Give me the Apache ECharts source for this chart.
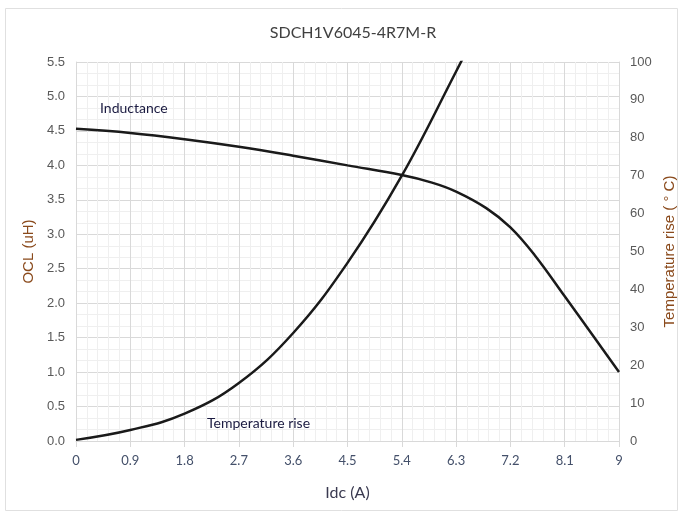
<!DOCTYPE html>
<html>
<head>
<meta charset="utf-8">
<script src="https://cdn.jsdelivr.net/npm/echarts@6/dist/echarts.min.js"></script>
<style>
html,body{margin:0;padding:0;background:#fff;}
#c{width:681px;height:514px;}
</style>
</head>
<body>
<div id="c"></div>
<script>
// Data
var title = 'SDCH1V6045-4R7M-R';
var indIdc = [0, 0.9, 1.8, 2.7, 3.6, 4.5, 5.4, 5.9, 6.3, 6.8, 7.2, 7.6, 8.1, 8.6, 9];
var indOCL = [4.53, 4.47, 4.38, 4.27, 4.14, 4.0, 3.86, 3.75, 3.62, 3.38, 3.1, 2.7, 2.1, 1.49, 1.0];
var tmpIdc = [0, 0.9, 1.8, 2.7, 3.6, 4.5, 5.4, 6.3, 6.6];
var tmpRise = [0.3, 2.9, 7.2, 15.3, 28.5, 47.0, 70.0, 97.5, 107];
var xTicks = [0, 0.9, 1.8, 2.7, 3.6, 4.5, 5.4, 6.3, 7.2, 8.1, 9];
var leftTicks = [0, 0.5, 1, 1.5, 2, 2.5, 3, 3.5, 4, 4.5, 5, 5.5];
var rightTicks = [0, 10, 20, 30, 40, 50, 60, 70, 80, 90, 100];

function pairs(xs, ys){ return xs.map(function(x,i){ return [x, ys[i]]; }); }

var chart = echarts.init(document.getElementById('c'), null, {renderer:'canvas'});
var labelFont = 'Liberation Sans';
var option = {
  backgroundColor: '#fff',
  animation: false,
  title: {
    text: title, left: 348, top: 20, textAlign: 'center',
    textStyle: {fontFamily: 'Lato', fontWeight: 'normal', fontSize: 16, color: '#404040'}
  },
  graphic: [
    {type:'rect', z: 0, shape:{x:5.5, y:8.5, width:672, height:502}, style:{fill:'none', stroke:'#e0e0e0', lineWidth:1}, silent:true},
    {type:'text', z: 100, zlevel: 1, left: 100, top: 101, style:{text:'Inductance', font:'14px Lato', fill:'#1a1a40'}},
    {type:'text', z: 100, zlevel: 1, left: 207, top: 416, style:{text:'Temperature rise', font:'14px Lato', fill:'#1a1a40'}}
  ],
  grid: {left: 76, right: 62, top: 62, bottom: 73, containLabel: false, outerBoundsMode: 'none'},
  xAxis: {
    type: 'value', min: 0, max: 9, interval: 0.9,
    name: 'Idc (A)', nameLocation: 'middle', nameGap: 44,
    nameTextStyle: {fontFamily: 'Lato', fontSize: 16, color: '#3a3a50'},
    axisLine: {show: true, lineStyle: {color: '#d9d9d9', width: 1}},
    axisTick: {show: true, length: 6, lineStyle: {color: '#d9d9d9'}},
    axisLabel: {margin: 13, fontFamily: 'Lato', fontSize: 13, color: '#44506a',
      formatter: function(v){ return String(parseFloat(v.toFixed(1))); }},
    splitLine: {show: true, lineStyle: {color: '#d9d9d9', width: 1}},
    minorTick: {show: false, splitNumber: 5},
    minorSplitLine: {show: true, lineStyle: {color: '#efefef', width: 1}}
  },
  yAxis: [
    {
      type: 'value', min: 0, max: 5.5, interval: 0.5, position: 'left',
      name: 'OCL (uH)', nameLocation: 'middle', nameGap: 40, nameRotate: 90,
      nameTextStyle: {fontFamily: 'Liberation Sans', fontSize: 15, color: '#8a4a1c'},
      axisLine: {show: true, lineStyle: {color: '#d9d9d9'}},
      axisTick: {show: false},
      axisLabel: {margin: 11, fontFamily: labelFont, fontSize: 13, color: '#595959',
        formatter: function(v){ return v.toFixed(1); }},
      splitLine: {show: true, lineStyle: {color: '#d9d9d9', width: 1}},
      minorTick: {show: false, splitNumber: 3},
      minorSplitLine: {show: true, lineStyle: {color: '#efefef', width: 1}}
    },
    {
      type: 'value', min: 0, max: 100, interval: 10, position: 'right',
      name: 'Temperature rise ( ° C)', nameLocation: 'middle', nameGap: 41, nameRotate: 90,
      nameTextStyle: {fontFamily: 'Liberation Sans', fontSize: 15, color: '#8a4a1c'},
      axisLine: {show: true, lineStyle: {color: '#d9d9d9'}},
      axisTick: {show: false},
      axisLabel: {margin: 11, fontFamily: labelFont, fontSize: 13, color: '#595959'},
      splitLine: {show: false}
    }
  ],
  series: [
    {
      type: 'line', name: 'Inductance', yAxisIndex: 0, smooth: 0.4, showSymbol: false,
      data: pairs(indIdc, indOCL), lineStyle: {color: '#1a1a1a', width: 2.5}, clip: true
    },
    {
      type: 'line', name: 'Temperature rise', yAxisIndex: 1, smooth: 0.4, showSymbol: false,
      data: pairs(tmpIdc, tmpRise), lineStyle: {color: '#1a1a1a', width: 2.5}, clip: true
    }
  ]
};
chart.setOption(option);
</script>
</body>
</html>
